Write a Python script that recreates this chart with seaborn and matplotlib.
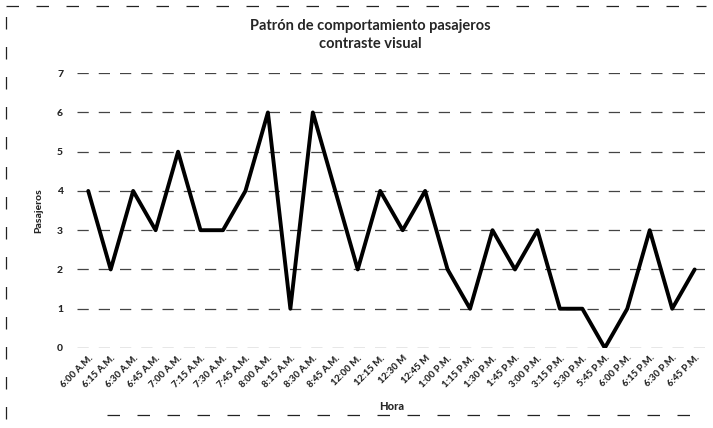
import matplotlib
matplotlib.use("Agg")
import matplotlib.pyplot as plt
import seaborn as sns
import pandas as pd
from matplotlib.lines import Line2D

horas = [
    "6:00 A.M.", "6:15 A.M.", "6:30 A.M.", "6:45 A.M.", "7:00 A.M.", "7:15 A.M.",
    "7:30 A.M.", "7:45 A.M.", "8:00 A.M.", "8:15 A.M.", "8:30 A.M.", "8:45 A.M.",
    "12:00 M.", "12:15 M.", "12:30 M", "12:45 M",
    "1:00 P.M.", "1:15 P.M.", "1:30 P.M.", "1:45 P.M.", "3:00 P.M.", "3:15 P.M.",
    "5:30 P.M.", "5:45 P.M.", "6:00 P.M.", "6:15 P.M.", "6:30 P.M.", "6:45 P.M.",
]
pasajeros = [4, 2, 4, 3, 5, 3, 3, 4, 6, 1, 6, 4,
             2, 4, 3, 4,
             2, 1, 3, 2, 3, 1, 1, 0, 1, 3, 1, 2]
y_ticks = [0, 1, 2, 3, 4, 5, 6, 7]

titulo = "Patrón de comportamiento pasajeros\ncontraste visual"

df = pd.DataFrame({"Hora": horas, "Pasajeros": pasajeros})

sns.set_theme(style="white")
plt.rcParams["font.family"] = ["Lato", "DejaVu Sans"]

fig = plt.figure(figsize=(7.13, 4.28), dpi=100)
ax = fig.add_axes([0.108, 0.187, 0.882, 0.642])

# horizontal guide lines, broken like a photocopy
for v in y_ticks:
    ax.axhline(v, color="#444444", lw=0.9, ls=(0, (9, 8)), zorder=1)

sns.lineplot(data=df, x="Hora", y="Pasajeros", sort=False, color="black",
             lw=2.8, ax=ax, zorder=3)

ax.set_xlim(-0.5, len(horas) - 0.5)
ax.set_ylim(0, 7)
ax.set_yticks(y_ticks)
ax.set_yticklabels([str(v) for v in y_ticks], fontsize=7.5, fontweight="black")
ax.set_xticks(range(len(horas)))
ax.set_xticklabels(horas, rotation=45, ha="right", rotation_mode="anchor",
                   fontsize=6.8, fontweight="black")
ax.tick_params(axis="y", pad=10, length=0)
ax.tick_params(axis="x", pad=4, length=0)
for s in ax.spines.values():
    s.set_visible(False)

ax.set_xlabel("Hora", fontsize=8, fontweight="black", labelpad=8)
ax.set_ylabel("Pasajeros", fontsize=7.5, fontweight="black", labelpad=10)

fig.text(0.519, 0.955, titulo, ha="center", va="top", fontsize=10.5,
         fontweight="bold", linespacing=1.35)

# fragments of the chart-area frame (top, left and bottom edges)
frame_style = dict(transform=fig.transFigure, color="#222222", lw=0.9,
                   ls=(0, (10, 14)))
fig.lines.append(Line2D([0.008, 0.99], [0.985, 0.985], **frame_style))
fig.lines.append(Line2D([0.008, 0.008], [0.02, 0.985], **frame_style))
fig.lines.append(Line2D([0.15, 0.99], [0.03, 0.03], **frame_style))

fig.savefig("out.png", dpi=100, facecolor="white")
